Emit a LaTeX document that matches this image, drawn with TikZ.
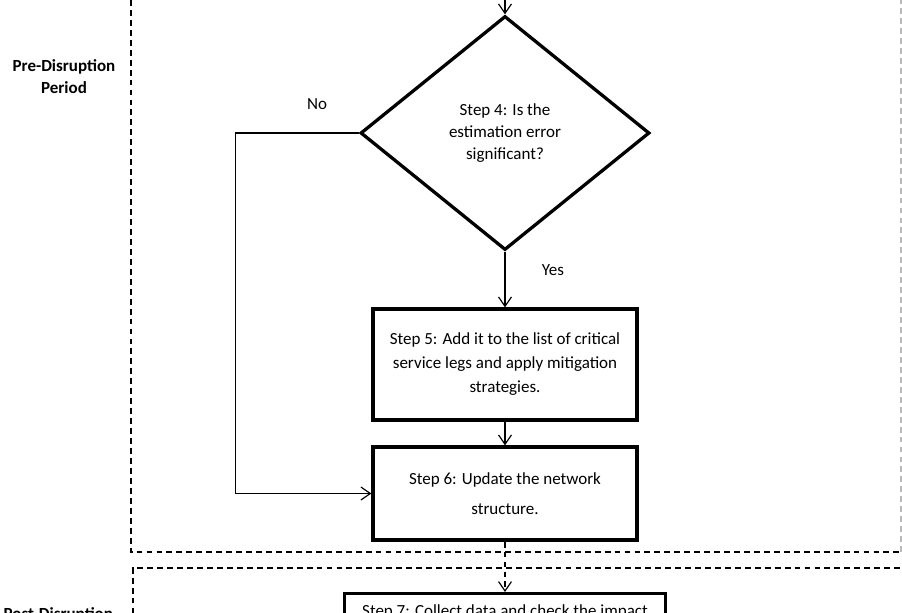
\documentclass[tikz,border=0pt]{standalone}
\usepackage{fontspec}
\setmainfont{Carlito}
\usetikzlibrary{arrows.meta,positioning,shapes.geometric}
\newcommand{\steptext}{\fontsize{14.5}{18.5}\selectfont}

\begin{document}
\begin{tikzpicture}[
    stepbox/.style={
        rectangle, draw, line width=2.8pt,
        align=center, font=\steptext,
        minimum width=7.92cm, inner sep=4pt,
    },
    decision/.style={
        diamond, draw, line width=2.8pt,
        align=center, font=\steptext,
        minimum width=8.67cm, minimum height=7.02cm, inner sep=0pt,
    },
    arr/.style={-{Straight Barb[length=8pt,width=11pt]}, line width=1pt},
    region/.style={line width=1pt, dash pattern=on 5pt off 3.5pt},
    phase/.style={font=\steptext\bfseries, align=center},
    answer/.style={font=\steptext},
]

% Canvas: 902 x 612 px at 0.03cm per px
\useasboundingbox (0,0) rectangle (27.06,-18.36);
\clip (0,0) rectangle (27.06,-18.36);

% Phase frames (dashed)
\draw[region] (3.93,0.3) |- (27.03,-16.56);
\draw[region, gray!55] (27.03,-16.56) -- (27.03,0.3);
\draw[region] (3.99,-19) |- (27.3,-17.04);

% Phase labels
\node[phase] (pre) at (1.92,-2.3) {Pre-Disruption\\Period};
\node[phase, anchor=north] (post) at (1.75,-18.1) {Post-Disruption\\Period};

% Decision
\coordinate (entry) at (15.15,0.3);
\node[decision] (s4) at (15.15,-3.99)
    {Step 4: Is the\\estimation error\\significant?};

% Steps
\node[stepbox, minimum height=3.33cm] (s5) at (15.15,-10.935)
    {Step 5: Add it to the list of critical\\[2pt]
     service legs and apply mitigation\\[2pt]
     strategies.};

\node[stepbox, minimum height=2.79cm] (s6) at (15.15,-14.805)
    {Step 6: Update the network\\[7pt]
     structure.};

\node[stepbox, anchor=north, minimum width=9.63cm, inner ysep=0.33cm] (s7)
    at (15.15,-17.76) {Step 7: Collect data and check the impact};

% Answer labels
\node[answer] (no) at (9.51,-3.12) {No};
\node[answer] (yes) at (16.59,-8.1) {Yes};

% Arrows
\draw[arr] (entry) -- (s4.north);
\draw[arr] (s4.south) -- (s5.north);
\draw[arr] (s5.south) -- (s6.north);
\draw[arr] (s4.west) -- ++(-3.69,0) |- (s6.west);
\draw[arr, region] (s6.south) -- (s7.north);

\end{tikzpicture}
\end{document}
